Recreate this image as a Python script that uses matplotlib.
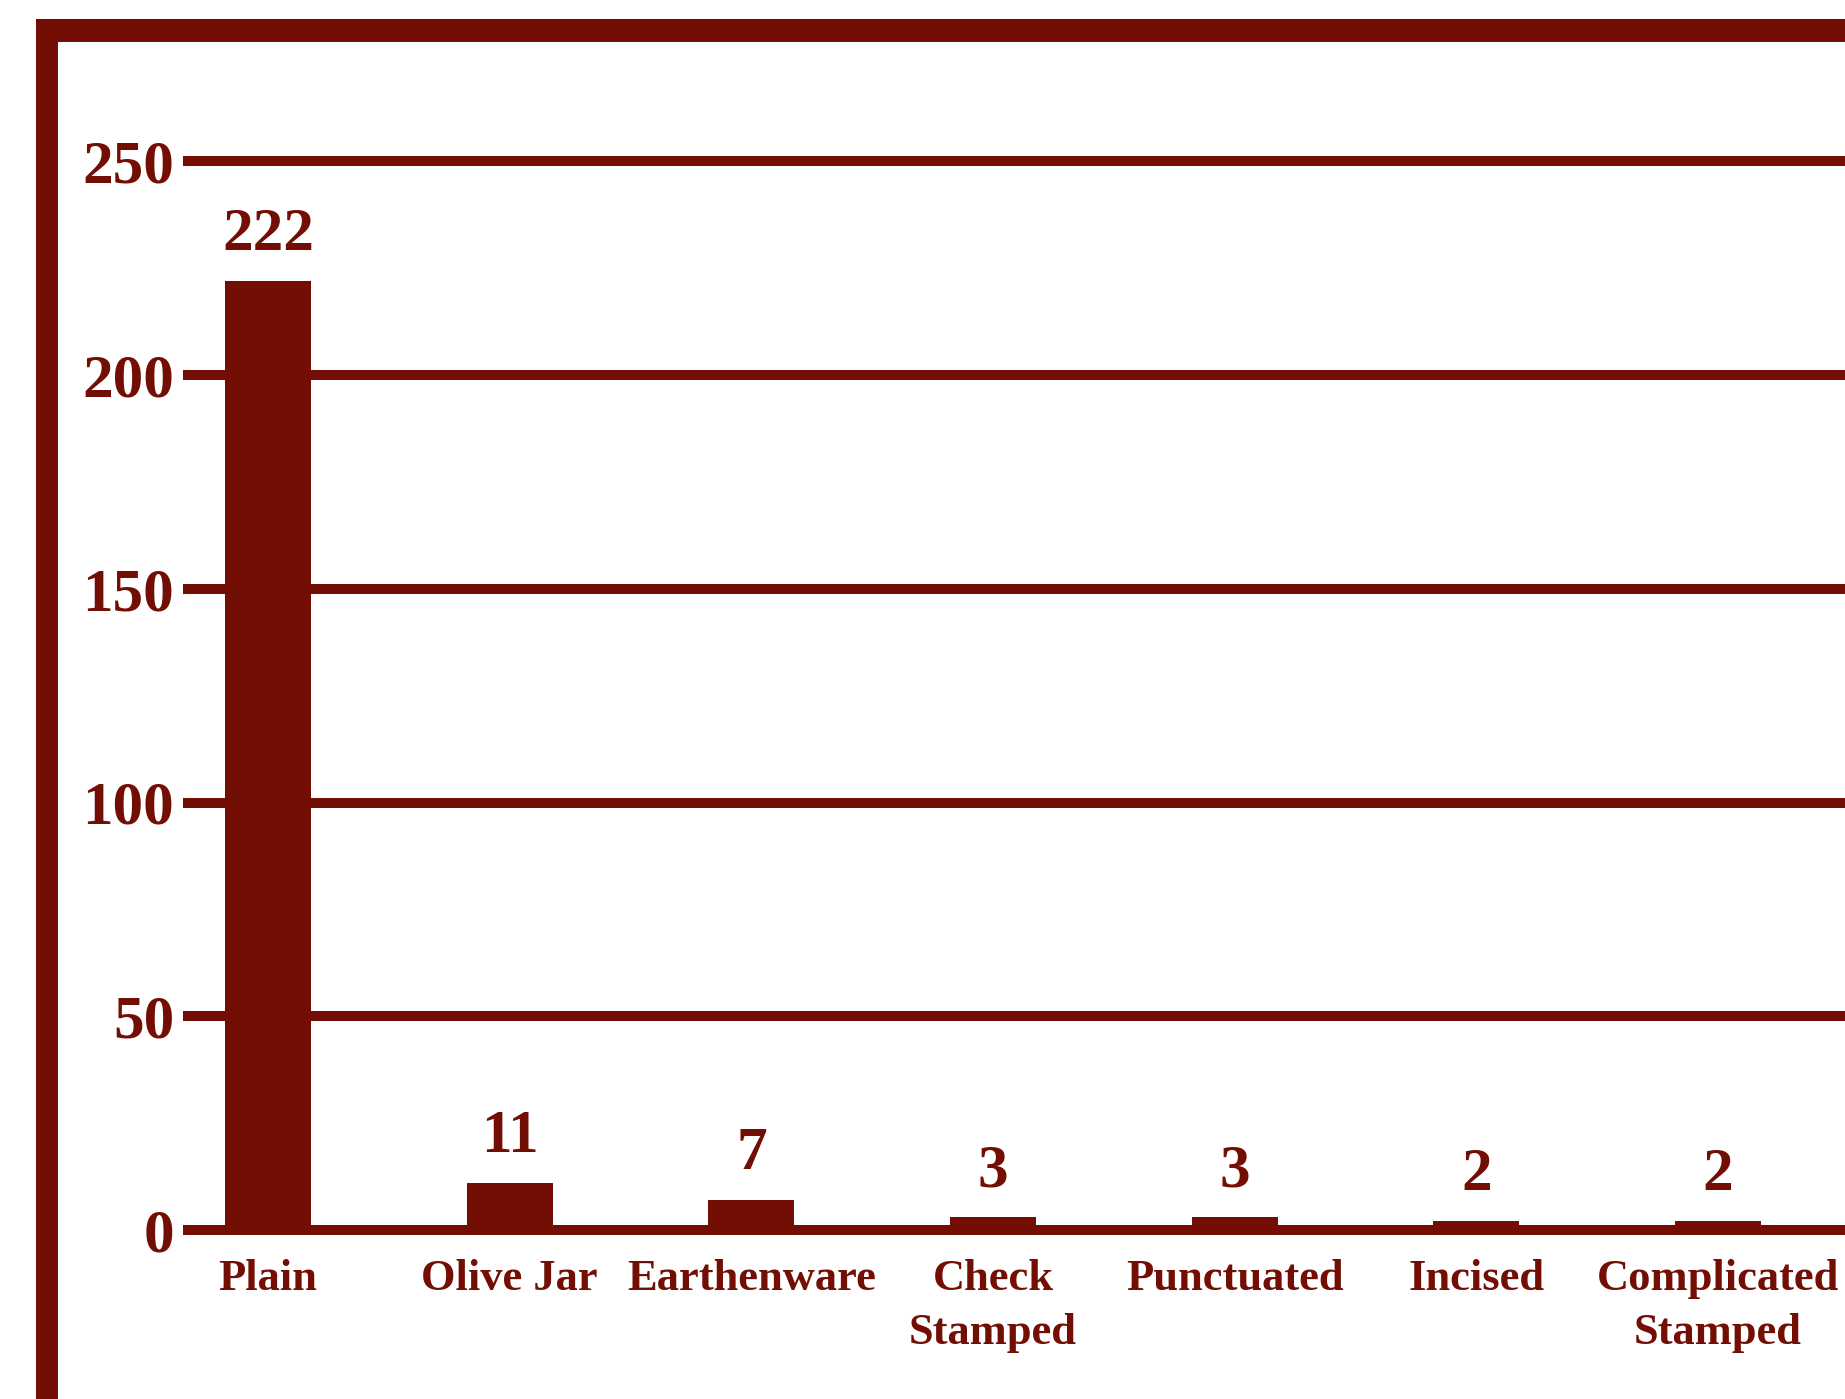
import matplotlib
matplotlib.use("Agg")
import matplotlib.pyplot as plt
from matplotlib.patches import Rectangle
import numpy as np

# ---- ceramic type counts ----
types  = ["Plain", "Olive Jar", "Earthenware", "Check\nStamped",
          "Punctuated", "Incised", "Complicated\nStamped"]
counts = [222, 11, 7, 3, 3, 2, 2]
yticks = [0, 50, 100, 150, 200, 250]

RED = "#720e03"
plt.rcParams.update({"font.family": ["Liberation Serif", "DejaVu Serif"],
                     "font.weight": "bold"})

W, H = 1845, 1399
fig = plt.figure(figsize=(W/100, H/100), dpi=100)
fig.patch.set_facecolor("white")

# frame: thick bar on top and on the left
fig.add_artist(Rectangle((36/W, 0), 22/W, 1 - 19/H, transform=fig.transFigure,
                         color=RED, lw=0))
fig.add_artist(Rectangle((36/W, 1 - 42/H), 1 - 36/W, 23/H, transform=fig.transFigure,
                         color=RED, lw=0))

ax = fig.add_axes([188/W, 169/H, (1841-188)/W, 1111.5/H])
ax.set_facecolor("none")
for s in ax.spines.values():
    s.set_visible(False)

x = np.arange(len(types))
for t in yticks:
    ax.axhline(t, color=RED, lw=7.2, clip_on=False, zorder=1)
bars = ax.bar(x, counts, width=0.356, color=RED, zorder=2)
ax.bar_label(bars, padding=13, fontsize=44, fontweight="bold", color=RED)

ax.set_xlim(-0.331, 6.509)
ax.set_ylim(0, 260)
ax.set_yticks(yticks)
ax.set_yticklabels([str(t) for t in yticks], fontsize=44, fontweight="bold", color=RED)
ax.set_xticks(x)
ax.set_xticklabels(types, fontsize=32, fontweight="bold", color=RED,
                   linespacing=1.45)
ax.tick_params(axis="y", length=0, pad=10)
ax.tick_params(axis="x", length=0, pad=21)

fig.savefig("out.png", dpi=100, facecolor="white")
plt.close(fig)
